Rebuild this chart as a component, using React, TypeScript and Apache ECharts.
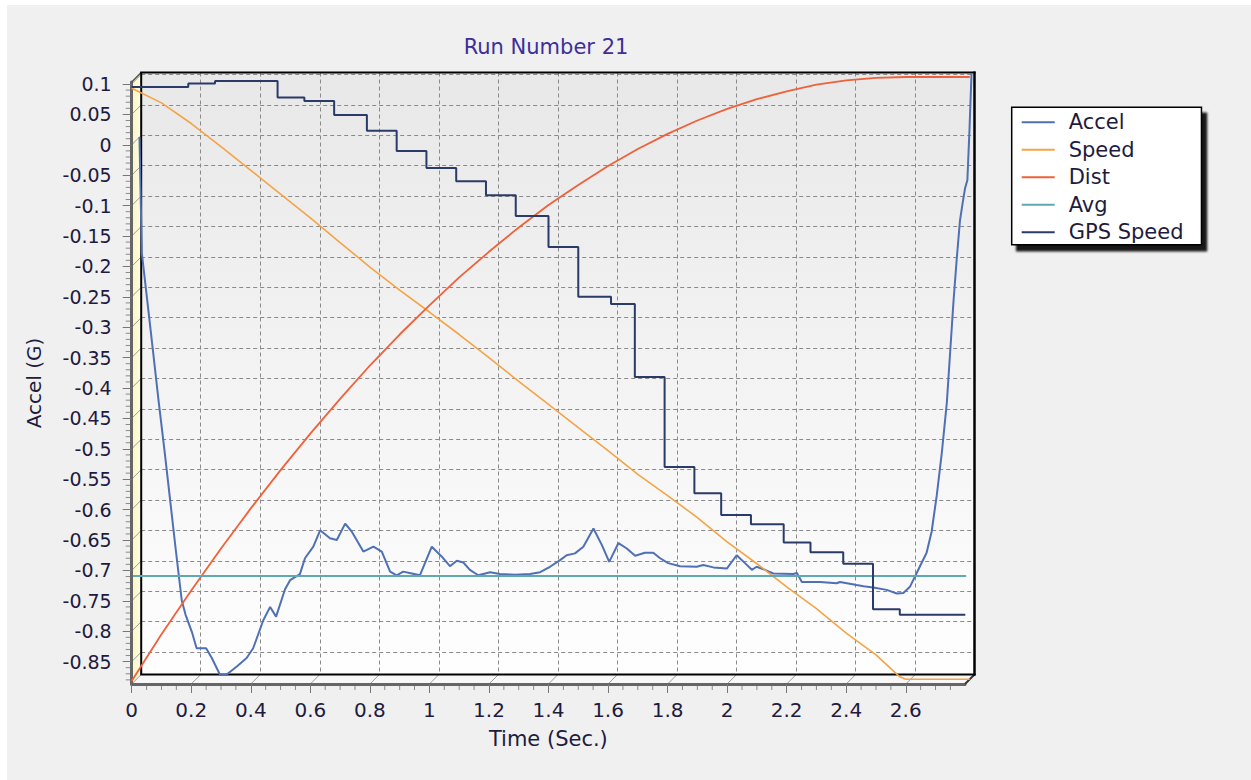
import { useEffect, useRef } from "react";
import * as echarts from "echarts";

const FONT = "DejaVu Sans";

const X_TICKS = [0, 0.2, 0.4, 0.6, 0.8, 1, 1.2, 1.4, 1.6, 1.8, 2, 2.2, 2.4, 2.6];
const Y_TICKS = [0.1, 0.05, 0, -0.05, -0.1, -0.15, -0.2, -0.25, -0.3, -0.35, -0.4, -0.45, -0.5, -0.55, -0.6, -0.65, -0.7, -0.75, -0.8, -0.85];
const X_MIN = 0;
const X_MAX = 2.799;
const Y_MIN = -0.8868;
const Y_MAX = 0.1033;
// the traces run slightly past the front frame (into the 3D depth)
const DATA_X_MAX = 2.83;
const DATA_Y_MAX = 0.125;

const SERIES_NAMES = ["Accel", "Speed", "Dist", "Avg", "GPS Speed"];
const SERIES_COLORS = ["#4f70b4", "#f4a446", "#f0603a", "#5fa9b1", "#2b3b68"];

const ACCEL_TIME = [
  0.026, 0.034, 0.052, 0.071, 0.09, 0.11, 0.129, 0.148, 0.168, 0.181, 0.202, 0.218, 0.25, 0.269, 0.297, 0.317,
  0.353, 0.386, 0.408, 0.442, 0.465, 0.485, 0.515, 0.532, 0.565, 0.582, 0.61, 0.633, 0.666, 0.689, 0.717, 0.739,
  0.778, 0.812, 0.84, 0.868, 0.89, 0.912, 0.941, 0.968, 1.008, 1.041, 1.069, 1.092, 1.114, 1.136, 1.164, 1.204,
  1.237, 1.288, 1.338, 1.372, 1.405, 1.439, 1.461, 1.489, 1.517, 1.551, 1.579, 1.604, 1.635, 1.663, 1.691, 1.724,
  1.752, 1.775, 1.802, 1.842, 1.898, 1.92, 1.954, 1.999, 2.032, 2.06, 2.083, 2.099, 2.122, 2.155, 2.222, 2.234,
  2.251, 2.312, 2.368, 2.379, 2.435, 2.458, 2.491, 2.536, 2.57, 2.592, 2.614, 2.647, 2.67, 2.687, 2.704, 2.721,
  2.738, 2.749, 2.76, 2.771, 2.782, 2.791, 2.799, 2.807, 2.814, 2.821,
];
const ACCEL = [
  0.013, -0.178, -0.255, -0.337, -0.42, -0.502, -0.584, -0.666, -0.749, -0.773, -0.801, -0.828, -0.828, -0.844, -0.872, -0.872,
  -0.858, -0.844, -0.828, -0.782, -0.76, -0.776, -0.731, -0.716, -0.706, -0.68, -0.661, -0.634, -0.647, -0.65, -0.623, -0.636,
  -0.669, -0.661, -0.669, -0.702, -0.708, -0.702, -0.705, -0.708, -0.661, -0.677, -0.693, -0.684, -0.687, -0.699, -0.708, -0.703,
  -0.706, -0.707, -0.706, -0.703, -0.694, -0.683, -0.675, -0.672, -0.661, -0.631, -0.658, -0.686, -0.655, -0.664, -0.676, -0.671,
  -0.671, -0.68, -0.688, -0.693, -0.694, -0.691, -0.695, -0.697, -0.675, -0.688, -0.699, -0.694, -0.698, -0.705, -0.706, -0.704,
  -0.719, -0.719, -0.721, -0.719, -0.724, -0.726, -0.728, -0.732, -0.738, -0.737, -0.727, -0.694, -0.671, -0.636, -0.577, -0.507,
  -0.424, -0.342, -0.26, -0.189, -0.125, -0.096, -0.072, -0.058, 0.024, 0.118,
];

const SPEED_TIME = [0, 0.1, 0.2, 0.3, 0.4, 0.5, 0.6, 0.7, 0.8, 0.9, 1, 1.1, 1.2, 1.3, 1.4, 1.5, 1.6, 1.7, 1.8, 1.9, 2, 2.1, 2.2, 2.3, 2.4, 2.5, 2.58, 2.6, 2.815];
const SPEED = [
  0.093, 0.069, 0.035, -0.003, -0.042, -0.081, -0.12, -0.161, -0.201, -0.239, -0.275, -0.312, -0.35, -0.389, -0.427,
  -0.465, -0.503, -0.542, -0.577, -0.613, -0.653, -0.689, -0.727, -0.763, -0.803, -0.839, -0.875, -0.879, -0.879,
];

const DIST_TIME = [0, 0.1, 0.2, 0.3, 0.4, 0.5, 0.6, 0.7, 0.8, 0.9, 1, 1.1, 1.2, 1.3, 1.4, 1.5, 1.6, 1.7, 1.8, 1.9, 2, 2.1, 2.2, 2.3, 2.4, 2.5, 2.6, 2.815];
const DIST = [
  -0.882, -0.805, -0.733, -0.664, -0.598, -0.535, -0.475, -0.418, -0.363, -0.312, -0.264, -0.218, -0.176, -0.136,
  -0.099, -0.066, -0.035, -0.007, 0.018, 0.04, 0.059, 0.075, 0.088, 0.099, 0.106, 0.11, 0.1115, 0.1115,
];

const AVG_TIME = [0.004, 2.803];
const AVG = -0.709;

const GPS_TIME = [0, 0.19, 0.28, 0.49, 0.58, 0.68, 0.79, 0.89, 0.99, 1.09, 1.19, 1.29, 1.4, 1.5, 1.61, 1.69, 1.79, 1.89, 1.98, 2.08, 2.19, 2.28, 2.39, 2.49, 2.58, 2.8];
const GPS_SPEED = [
  0.095, 0.101, 0.105, 0.078, 0.072, 0.049, 0.023, -0.01, -0.038, -0.06, -0.083, -0.117, -0.168, -0.25, -0.262,
  -0.382, -0.53, -0.573, -0.609, -0.624, -0.654, -0.67, -0.689, -0.764, -0.773, -0.773,
];

const pairs = (xs: number[], ys: number[]) => xs.map((x, i) => [x, ys[i]]);

// layout (chart-local pixels)
const FRONT = { left: 124.7, top: 77, width: 833.3, height: 602 };
const DEPTH = 9.5;
const BACK = { left: FRONT.left + DEPTH, top: FRONT.top - DEPTH, width: FRONT.width, height: FRONT.height };
const SX = FRONT.width / (X_MAX - X_MIN);
const SY = FRONT.height / (Y_MAX - Y_MIN);
const DATA = {
  left: FRONT.left,
  top: FRONT.top - (DATA_Y_MAX - Y_MAX) * SY,
  width: (DATA_X_MAX - X_MIN) * SX,
  height: (DATA_Y_MAX - Y_MIN) * SY,
};

const LABEL_COLOR = "#1e1b3e";
const fmt = (v: number) => String(Math.round(v * 100) / 100);

export default function App() {
  const ref = useRef<HTMLDivElement>(null);

  useEffect(() => {
    if (!ref.current) return;
    const chart = echarts.init(ref.current, null, { renderer: "svg" });

    const xMinor: number[] = [];
    for (let i = 0; i * 0.05 <= X_MAX; i++) if (i % 4 !== 0) xMinor.push(+(i * 0.05).toFixed(2));
    const yMinor: number[] = [];
    for (let i = -88; i <= 10; i++) if (i % 5 !== 0) yMinor.push(i / 100);

    const data = [
      pairs(ACCEL_TIME, ACCEL),
      pairs(SPEED_TIME, SPEED),
      pairs(DIST_TIME, DIST),
      AVG_TIME.map((t) => [t, AVG]),
      pairs(GPS_TIME, GPS_SPEED),
    ];
    const widths = [2, 1.6, 1.8, 2, 2];

    const hiddenAxis = (gridIndex: number, min: number, max: number, position: string) => ({
      type: "value", gridIndex, min, max, show: false, position,
      axisLine: { show: false, onZero: false },
      axisTick: { show: false }, axisLabel: { show: false }, splitLine: { show: false },
    });

    chart.setOption({
      animation: false,
      textStyle: { fontFamily: FONT },
      color: SERIES_COLORS,
      title: {
        text: "Run Number 21",
        left: 539,
        top: 31,
        textAlign: "center",
        padding: 0,
        textStyle: { fontSize: 21, fontWeight: "normal", color: "#3d2e9a", fontFamily: FONT },
      },
      legend: {
        data: SERIES_NAMES,
        orient: "vertical",
        left: 1004.7,
        top: 102.3,
        backgroundColor: "#ffffff",
        borderColor: "#000000",
        borderWidth: 1.5,
        padding: [4.5, 18, 2, 10],
        itemGap: 6.5,
        itemWidth: 33,
        itemHeight: 2,
        icon: "rect",
        selectedMode: false,
        shadowColor: "rgba(0,0,0,0.9)",
        shadowBlur: 2,
        shadowOffsetX: 5,
        shadowOffsetY: 6,
        textStyle: { fontSize: 21, color: LABEL_COLOR, lineHeight: 21, padding: [0, 0, 0, 9], fontFamily: FONT },
      },
      grid: [
        { ...FRONT, containLabel: false },
        {
          ...BACK,
          containLabel: false,
          show: true,
          borderWidth: 0,
          backgroundColor: {
            type: "linear", x: 0, y: 0, x2: 0, y2: 1,
            colorStops: [
              { offset: 0, color: "#e8e8e8" },
              { offset: 1, color: "#fefefe" },
            ],
          },
        },
        { ...DATA, containLabel: false },
      ],
      xAxis: [
        {
          type: "value", gridIndex: 0, min: X_MIN, max: X_MAX, position: "bottom",
          name: "Time (Sec.)", nameLocation: "middle", nameGap: 44,
          nameTextStyle: { fontSize: 21, color: LABEL_COLOR, fontFamily: FONT },
          axisLine: { show: true, onZero: false, lineStyle: { color: "#666666", width: 3 } },
          axisTick: { show: true, customValues: X_TICKS, length: 9, lineStyle: { color: "#777777", width: 1 } },
          axisLabel: { show: true, customValues: X_TICKS, margin: 16, fontSize: 20, color: LABEL_COLOR, formatter: fmt, fontFamily: FONT },
          splitLine: { show: false },
        },
        {
          type: "value", gridIndex: 1, min: X_MIN, max: X_MAX, position: "bottom",
          axisLine: { show: false, onZero: false },
          axisTick: { show: false, customValues: X_TICKS },
          axisLabel: { show: false, customValues: X_TICKS },
          splitLine: { show: true, lineStyle: { color: "#8a8a8a", width: 1, type: [4, 3] } },
        },
        hiddenAxis(2, X_MIN, DATA_X_MAX, "bottom"),
      ],
      yAxis: [
        {
          type: "value", gridIndex: 0, min: Y_MIN, max: Y_MAX, position: "left",
          name: "Accel (G)", nameLocation: "middle", nameGap: 88, nameRotate: 90,
          nameTextStyle: { fontSize: 20, color: LABEL_COLOR, fontFamily: FONT },
          axisLine: { show: true, onZero: false, lineStyle: { color: "#666666", width: 3 } },
          axisTick: { show: true, customValues: Y_TICKS, length: 9, lineStyle: { color: "#777777", width: 1 } },
          axisLabel: { show: true, customValues: Y_TICKS, margin: 20, fontSize: 19, color: LABEL_COLOR, formatter: fmt, fontFamily: FONT },
          splitLine: { show: false },
        },
        {
          type: "value", gridIndex: 1, min: Y_MIN, max: Y_MAX, position: "left",
          axisLine: { show: false, onZero: false },
          axisTick: { show: false, customValues: Y_TICKS },
          axisLabel: { show: false, customValues: Y_TICKS },
          splitLine: { show: true, lineStyle: { color: "#8a8a8a", width: 1, type: [4, 3] } },
        },
        hiddenAxis(2, Y_MIN, DATA_Y_MAX, "left"),
      ],
      series: SERIES_NAMES.map((name, i) => ({
        name,
        type: "line",
        xAxisIndex: 2,
        yAxisIndex: 2,
        data: data[i],
        showSymbol: false,
        symbol: "none",
        clip: false,
        z: 3,
        step: name === "GPS Speed" ? "end" : undefined,
        lineStyle: { color: SERIES_COLORS[i], width: widths[i] },
        itemStyle: { color: SERIES_COLORS[i] },
      })),
    });

    // 3D walls, back-plane frame, tick diagonals and minor ticks, positioned from the front axes
    const toPx = (x: number, y: number) => chart.convertToPixel({ xAxisIndex: 0, yAxisIndex: 0 }, [x, y]) as number[];
    const tl = toPx(X_MIN, Y_MAX);
    const br = toPx(X_MAX, Y_MIN);
    const bl = [tl[0], br[1]];
    const seg = (x1: number, y1: number, x2: number, y2: number, stroke: string, lineWidth: number, z = 0) => ({
      type: "line", z, silent: true, shape: { x1, y1, x2, y2 }, style: { stroke, lineWidth },
    });
    const bx0 = tl[0] + DEPTH, by0 = tl[1] - DEPTH, bx1 = br[0] + DEPTH, by1 = br[1] - DEPTH;
    const elements: any[] = [
      {
        type: "polygon", z: -1, silent: true,
        shape: { points: [[tl[0], tl[1]], [bx0, by0], [bx0, by1], [bl[0], bl[1]]] },
        style: {
          fill: { type: "linear", x: 0, y: 0, x2: 1, y2: 0, colorStops: [{ offset: 0, color: "#fbf4c2" }, { offset: 1, color: "#fffde6" }] },
        },
      },
      {
        type: "polygon", z: -1, silent: true,
        shape: { points: [[bl[0], bl[1]], [bx0, by1], [bx1, by1], [br[0], br[1]]] },
        style: { fill: "#f8f8f8" },
      },
      seg(tl[0], tl[1], bx0, by0, "#555555", 1.5, 1),
      seg(br[0], br[1], bx1, by1, "#333333", 2, 1),
      // back plane frame, drawn above the dashed grid
      seg(bx0 - 1, by0, bx1 + 1, by0, "#000000", 2, 2),
      seg(bx0, by0, bx0, by1, "#000000", 2, 2),
      seg(bx0 - 1, by1, bx1 + 1, by1, "#000000", 2, 2),
      seg(bx1, by0 - 1, bx1, by1 + 1, "#000000", 2.5, 2),
    ];
    Y_TICKS.forEach((v) => {
      const p = toPx(X_MIN, v);
      elements.push(seg(p[0], p[1], p[0] + DEPTH, p[1] - DEPTH, "#9a9a9a", 1));
    });
    X_TICKS.forEach((t) => {
      const p = toPx(t, Y_MIN);
      elements.push(seg(p[0], p[1], p[0] + DEPTH, p[1] - DEPTH, "#9a9a9a", 1));
    });
    yMinor.forEach((v) => {
      const p = toPx(X_MIN, v);
      elements.push(seg(p[0] - 6, p[1], p[0] - 1, p[1], "#8a8a8a", 1));
    });
    xMinor.forEach((t) => {
      const p = toPx(t, Y_MIN);
      elements.push(seg(p[0], p[1] + 1, p[0], p[1] + 6, "#8a8a8a", 1));
    });
    chart.setOption({ graphic: { elements } });

    return () => chart.dispose();
  }, []);

  return (
    <div
      ref={ref}
      style={{ position: "fixed", left: 7, top: 5, width: 1244, height: 775, background: "#f0f0f0" }}
    />
  );
}
